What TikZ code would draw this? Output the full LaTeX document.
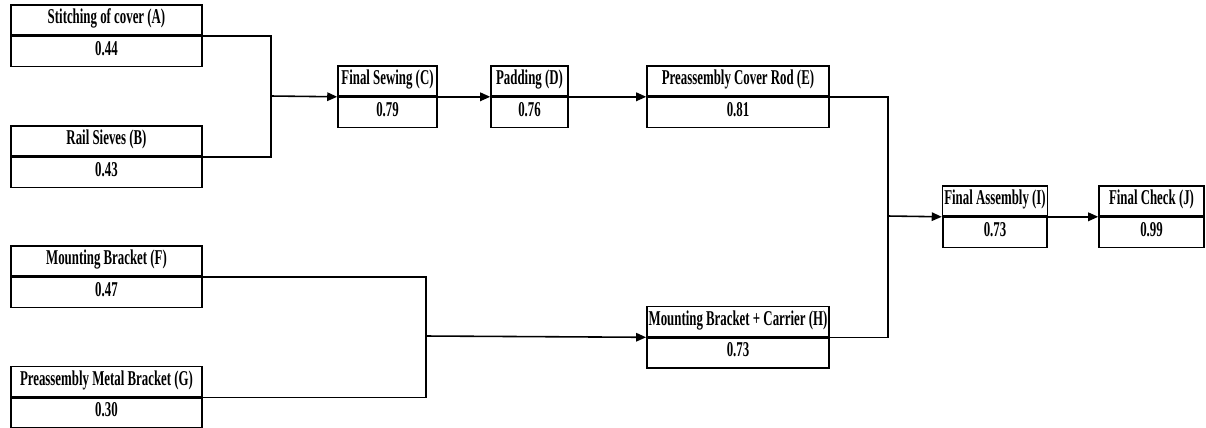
\documentclass[tikz,border=0pt]{standalone}
\usepackage{fontspec}
\setmainfont{Liberation Serif}[FakeStretch=0.61]
\usepackage{tikz}
\usetikzlibrary{arrows.meta,positioning}
\tikzset{
  proc/.style={
    draw=black,
    line width=0.9pt,
    minimum height=0.6cm,
    inner ysep=0pt,
    inner xsep=1pt,
    text height=1.45ex,
    text depth=.55ex,
    align=center,
    font=\fontsize{12}{12}\selectfont\bfseries
  },
  link/.style={
    line width=0.9pt,
    black
  },
  arrow/.style={
    -{Triangle[length=2mm,width=1.7mm]},
    line width=0.9pt,
    black
  }
}

\begin{document}
\begin{tikzpicture}[x=0.02cm, y=-0.02cm, node distance=0pt]
\useasboundingbox (0,0) rectangle (1206,427);
% entradas
\node[proc, minimum width=3.82cm] (a) at (106.5,20) {Stitching of cover (A)};
\node[proc, minimum width=3.82cm, below=of a] (av) {0.44};
\node[proc, minimum width=3.82cm] (b) at (106.5,141) {Rail Sieves (B)};
\node[proc, minimum width=3.82cm, below=of b] (bv) {0.43};
\node[proc, minimum width=3.82cm] (f) at (106.5,261) {Mounting Bracket (F)};
\node[proc, minimum width=3.82cm, below=of f] (fv) {0.47};
\node[proc, minimum width=3.82cm] (g) at (106.5,381.5) {Preassembly Metal Bracket (G)};
\node[proc, minimum width=3.82cm, below=of g] (gv) {0.30};
% linea superior
\node[proc, minimum width=1.98cm] (c) at (387.5,81) {Final Sewing (C)};
\node[proc, minimum width=1.98cm, below=of c] (cv) {0.79};
\node[proc, minimum width=1.54cm] (d) at (529.5,81) {Padding (D)};
\node[proc, minimum width=1.54cm, below=of d] (dv) {0.76};
\node[proc, minimum width=3.64cm] (e) at (738,81) {Preassembly Cover Rod (E)};
\node[proc, minimum width=3.64cm, below=of e] (ev) {0.81};
\node[proc, minimum width=3.64cm] (h) at (738,321.5) {Mounting Bracket + Carrier (H)};
\node[proc, minimum width=3.64cm, below=of h] (hv) {0.73};
% final
\node[proc, minimum width=2.08cm] (i) at (995,201) {Final Assembly (I)};
\node[proc, minimum width=2.08cm, below=of i] (iv) {0.73};
\node[proc, minimum width=2.1cm] (j) at (1151.5,201) {Final Check (J)};
\node[proc, minimum width=2.1cm, below=of j] (jv) {0.99};
% uniones
\coordinate (jab) at (271,96);
\coordinate (jfg) at (426,336);
\coordinate (jeh) at (888,216);
\draw[link] (a.south east) -| (jab) |- (b.south east);
\draw[arrow] (jab) -- (c.south west);
\draw[arrow] (c.south east) -- (d.south west);
\draw[arrow] (d.south east) -- (e.south west);
\draw[link] (f.south east) -| (jfg) |- (g.south east);
\draw[arrow] (jfg) -- (h.south west);
\draw[link] (e.south east) -| (jeh) |- (h.south east);
\draw[arrow] (jeh) -- (i.south west);
\draw[arrow] (i.south east) -- (j.south west);
\end{tikzpicture}
\end{document}
